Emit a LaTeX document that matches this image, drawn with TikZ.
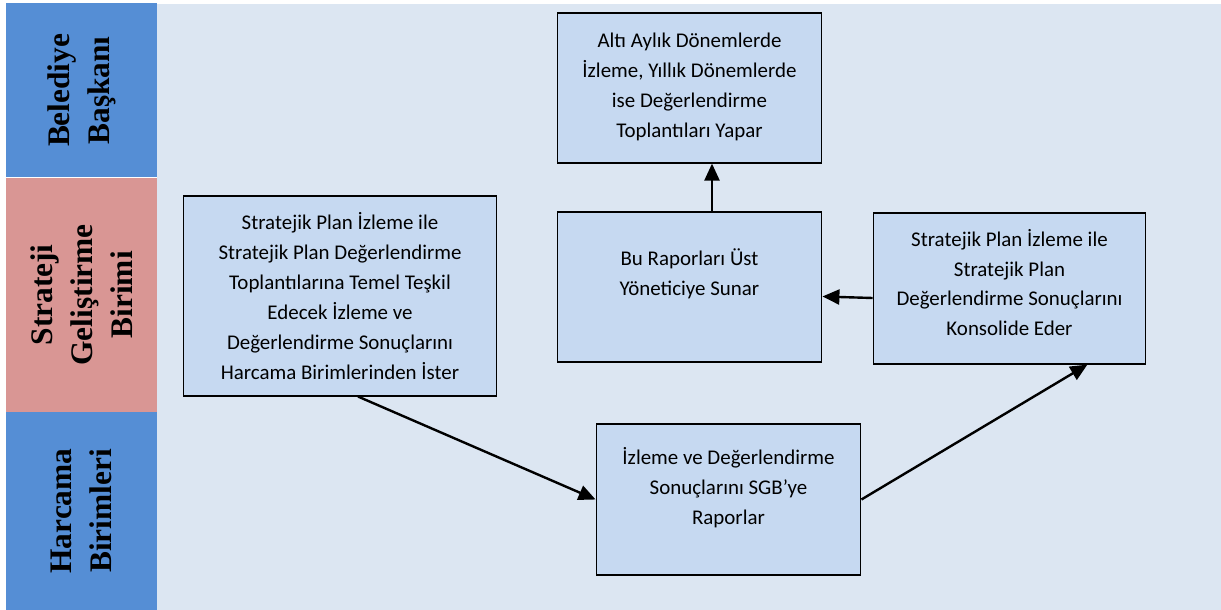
\documentclass[tikz,border=0pt]{standalone}
\usepackage{fontspec}
\setmainfont{Carlito}
\newfontfamily\seritfont{Liberation Serif}
\usetikzlibrary{arrows.meta}

\definecolor{serimavi}{RGB}{85,142,213}
\definecolor{seripembe}{RGB}{217,150,148}
\definecolor{zemin}{RGB}{220,230,242}
\definecolor{kutumavi}{RGB}{198,217,241}

\tikzset{
    kutu/.style={draw=black, line width=1.8bp, fill=kutumavi, inner sep=0pt},
    yazi/.style={align=center, inner sep=0pt, font=\fontsize{21}{30}\selectfont},
    serit/.style={rotate=90, inner sep=0pt, align=center,
        font=\seritfont\bfseries\fontsize{31.5}{40}\selectfont},
    ok/.style={line width=2.4bp, -{Triangle[length=17bp,width=15bp]}}
}

\begin{document}
\begin{tikzpicture}[x=1bp,y=-1bp]
    \useasboundingbox (0,0) rectangle (1221,610);
    \fill[zemin] (157,4) rectangle (1221,610);

    \node[serit, fill=serimavi, minimum width=174.7, minimum height=151] (baskan) at (81.5,90.35) {Belediye\\Başkanı};
    \node[serit, fill=seripembe, minimum width=234.3, minimum height=151] (sgb) at (81.5,294.85) {Strateji\\Geliştirme\\Birimi};
    \node[serit, fill=serimavi, minimum width=198, minimum height=151] (harcama) at (81.5,511) {Harcama\\Birimleri};

    \node[kutu, minimum width=265, minimum height=150,
        label={[name=toplanti yazi, yazi, yshift=1bp]center:{Altı Aylık Dönemlerde\\İzleme, Yıllık Dönemlerde\\ise Değerlendirme\\Toplantıları Yapar}}]
        (toplanti) at (689.5,88) {};
    \node[kutu, minimum width=265, minimum height=150,
        label={[name=sunar yazi, yazi, yshift=13bp]center:{Bu Raporları Üst\\Yöneticiye Sunar}}]
        (sunar) at (689.5,287) {};
    \node[kutu, minimum width=273, minimum height=151,
        label={[name=konsolide yazi, yazi, yshift=6bp]center:{Stratejik Plan İzleme ile\\Stratejik Plan\\Değerlendirme Sonuçlarını\\Konsolide Eder}}]
        (konsolide) at (1009.5,288.5) {};
    \node[kutu, minimum width=314, minimum height=200,
        label={[name=ister yazi, yazi]center:{Stratejik Plan İzleme ile\\Stratejik Plan Değerlendirme\\Toplantılarına Temel Teşkil\\Edecek İzleme ve\\Değerlendirme Sonuçlarını\\Harcama Birimlerinden İster}}]
        (ister) at (340,296) {};
    \node[kutu, minimum width=265, minimum height=151,
        label={[name=rapor yazi, yazi, yshift=12bp]center:{İzleme ve Değerlendirme\\Sonuçlarını SGB’ye\\Raporlar}}]
        (rapor) at (728.5,499.5) {};

    \draw[ok] ([xshift=22.5bp]sunar.north) -- ([xshift=22.5bp]toplanti.south);
    \draw[ok] ([yshift=-9.5bp]konsolide.west) -- ([yshift=-9.5bp]sunar.east);
    \draw[ok] ([xshift=18bp]ister.south) -- (rapor.west);
    \draw[ok] (rapor.east) -- ([xshift=-59bp]konsolide.south east);
\end{tikzpicture}
\end{document}
